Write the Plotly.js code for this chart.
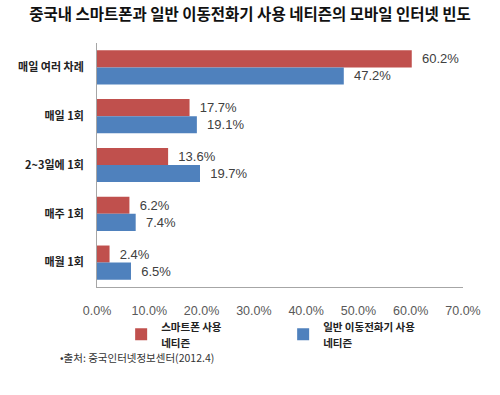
<!DOCTYPE html>
<html>
<head>
<meta charset="utf-8">
<script src="https://cdn.plot.ly/plotly-3.0.1.min.js"></script>
<style>html,body{margin:0;padding:0;background:#fff;}#chart{width:500px;height:395px;}</style>
</head>
<body>
<div id="chart"></div>
<script>
const categories = ["매일 여러 차례", "매일 1회", "2~3일에 1회", "매주 1회", "매월 1회"];
const smartphoneValues = [60.2, 17.7, 13.6, 6.2, 2.4];
const featurePhoneValues = [47.2, 19.1, 19.7, 7.4, 6.5];
const seriesNames = [
  "<span style='font-size:10.5px'>스마트폰 사용</span><br><span style='font-size:10.5px'>네티즌</span>",
  "<span style='font-size:10.5px'>일반 이동전화기 사용</span><br><span style='font-size:10.5px'>네티즌</span>"
];
const xTickValues = [0, 10, 20, 30, 40, 50, 60, 70];
const xTickLabels = ["0.0%", "10.0%", "20.0%", "30.0%", "40.0%", "50.0%", "60.0%", "70.0%"];

const labelFont = {family: "Liberation Sans, Arial, sans-serif", size: 13, color: "#404040"};
const fmt = v => "\u00a0\u00a0" + v.toFixed(1) + "%";

const traces = [
  {
    type: "bar", orientation: "h", name: seriesNames[0],
    y: categories, x: smartphoneValues,
    marker: {color: "#C0504D"},
    text: smartphoneValues.map(fmt),
    textposition: "outside", textfont: labelFont, cliponaxis: false,
    hoverinfo: "none"
  },
  {
    type: "bar", orientation: "h", name: seriesNames[1],
    y: categories, x: featurePhoneValues,
    marker: {color: "#4F81BD"},
    text: featurePhoneValues.map(fmt),
    textposition: "outside", textfont: labelFont, cliponaxis: false,
    hoverinfo: "none"
  }
];

const layout = {
  width: 500, height: 395,
  margin: {l: 97, r: 37, t: 43, b: 108},
  paper_bgcolor: "#ffffff", plot_bgcolor: "#ffffff",
  barmode: "group", bargap: 0.3, bargroupgap: 0,
  title: {
    text: "중국내 스마트폰과 일반 이동전화기 사용 네티즌의 모바일 인터넷 빈도",
    font: {family: "Noto Sans CJK KR, sans-serif", size: 15.5, color: "#111111", weight: "bold"},
    x: 0.5, xanchor: "center", y: 0.962, yanchor: "middle"
  },
  xaxis: {
    range: [0, 70], tickvals: xTickValues, ticktext: xTickLabels,
    showgrid: false, zeroline: false, showline: true, linecolor: "#a6a6a6", linewidth: 1,
    ticks: "", ticklen: 0, ticklabelstandoff: 12,
    tickfont: {family: "Liberation Sans, Arial, sans-serif", size: 12.5, color: "#595959"},
    fixedrange: true
  },
  yaxis: {
    autorange: "reversed", type: "category",
    showgrid: false, zeroline: false, showline: true, linecolor: "#a6a6a6", linewidth: 1,
    ticks: "", ticklen: 0, ticklabelstandoff: 10,
    tickfont: {family: "Noto Sans CJK KR, sans-serif", size: 11, color: "#222222", weight: "bold"},
    fixedrange: true
  },
  showlegend: true,
  legend: {
    orientation: "h", x: 0.066, xanchor: "left", y: -0.103, yanchor: "top",
    font: {family: "Noto Sans CJK KR, sans-serif", size: 12, color: "#222222", weight: "bold"},
    itemwidth: 30, tracegroupgap: 0, entrywidth: 117,
    bgcolor: "rgba(0,0,0,0)"
  },
  annotations: [
    {
      text: "•출처: 중국인터넷정보센터(2012.4)",
      xref: "paper", yref: "paper", x: -0.107, xanchor: "left",
      y: -0.29, yanchor: "middle", showarrow: false,
      font: {family: "Noto Sans CJK KR, sans-serif", size: 10.5, color: "#333333"}
    }
  ]
};

Plotly.newPlot("chart", traces, layout, {displayModeBar: false, staticPlot: true});
</script>
</body>
</html>
